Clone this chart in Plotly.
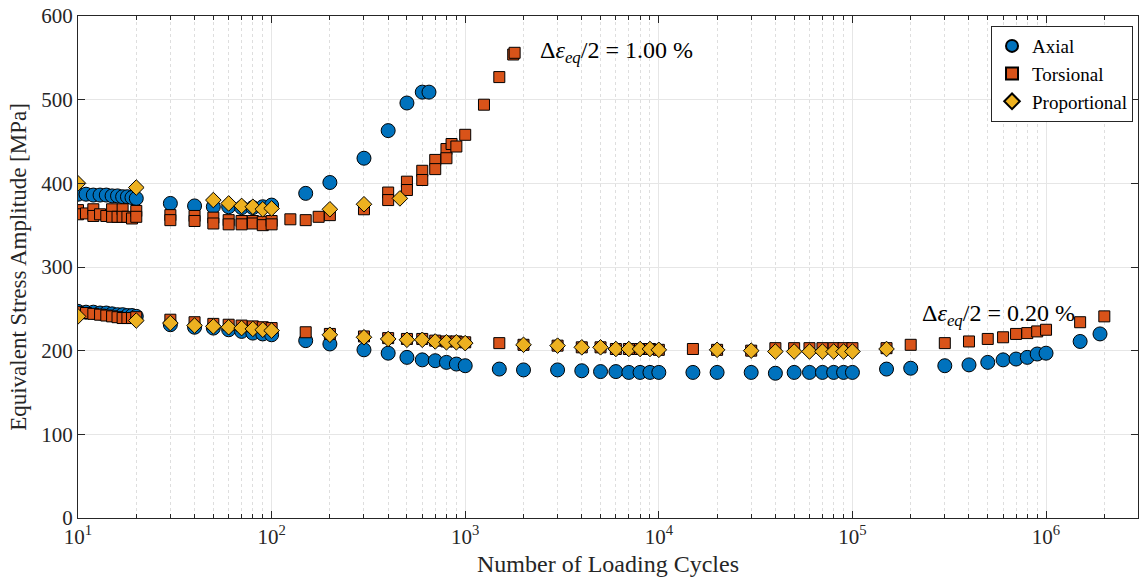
import plotly.graph_objects as go

# ---- Δε_eq/2 = 1.00 % ----
axial_hi_n = [10, 11, 12, 13, 14, 15, 16, 17, 18, 19, 20,
              30, 40, 50, 60, 70, 80, 90, 100,
              150, 200, 300, 400, 500, 600, 650]
axial_hi = [387, 387, 386, 386, 386, 385, 385, 384, 384, 383, 382,
            376, 373, 372, 372, 371, 371, 372, 374,
            388, 401, 430, 463, 496, 509, 509]

torsional_hi_n = [10, 10, 11, 12, 12, 13, 14, 15, 15, 16, 17, 17, 18, 19, 20, 20,
                  30, 30, 40, 40, 50, 50, 60, 60, 70, 70, 80, 80, 90, 90, 100, 100,
                  125, 150, 175, 200, 300, 400, 400, 500, 500, 600, 600, 700, 700,
                  800, 800, 850, 900, 1000, 1250, 1500, 1770, 1800]
torsional_hi = [368, 363, 364, 369, 361, 363, 361, 369, 360, 360, 369, 360, 360, 358, 367, 360,
                362, 356, 361, 355, 359, 352, 356, 351, 355, 351, 355, 352, 354, 350, 355, 351,
                357, 356, 360, 362, 369, 389, 380, 402, 392, 415, 404, 428, 417,
                441, 430, 447, 444, 458, 494, 527, 554, 556]

proportional_hi_n = [10, 20, 50, 60, 70, 80, 90, 100, 200, 300, 460]
proportional_hi = [400, 395, 380, 376, 373, 372, 369, 370, 369, 375, 382]

# ---- Δε_eq/2 = 0.20 % ----
axial_lo_n = [10, 11, 12, 13, 14, 15, 16, 17, 18, 19, 20,
              30, 40, 50, 60, 70, 80, 90, 100,
              150, 200, 300, 400, 500, 600, 700, 800, 900, 1000,
              1500, 2000, 3000, 4000, 5000, 6000, 7000, 8000, 9000, 10000,
              15000, 20000, 30000, 40000, 50000, 60000, 70000, 80000, 90000, 100000,
              150000, 200000, 300000, 400000, 500000, 600000, 700000, 800000, 900000, 1000000,
              1500000, 1900000]
axial_lo = [247, 246, 246, 245, 245, 244, 243, 243, 242, 242, 241,
            231, 228, 227, 225, 223, 221, 220, 219,
            212, 208, 201, 197, 192, 189, 188, 186, 184, 182,
            178, 177, 177, 176, 175, 175, 174, 174, 174, 174,
            174, 174, 174, 173, 174, 174, 174, 174, 174, 174,
            178, 179, 182, 183, 186, 189, 190, 192, 196, 197,
            211, 220]

torsional_lo_n = [10, 11, 12, 13, 14, 15, 16, 17, 18, 19, 20,
                  30, 40, 50, 60, 70, 80, 90, 100,
                  150, 200, 300, 400, 500, 600, 700, 800, 900, 1000,
                  1500, 2000, 3000, 4000, 5000, 6000, 7000, 8000, 9000, 10000,
                  15000, 20000, 30000, 40000, 50000, 60000, 70000, 80000, 90000, 100000,
                  150000, 200000, 300000, 400000, 500000, 600000, 700000, 800000, 900000, 1000000,
                  1500000, 2000000]
torsional_lo = [246, 245, 244, 243, 242, 241, 240, 239, 239, 239, 240,
                237, 234, 232, 231, 230, 229, 228, 227,
                222, 220, 217, 215, 214, 214, 212, 211, 211, 210,
                209, 207, 206, 204, 204, 202, 202, 202, 202, 201,
                202, 201, 200, 203, 203, 203, 203, 203, 203, 203,
                203, 207, 209, 211, 214, 216, 220, 221, 223, 225,
                234, 241]

proportional_lo_n = [10, 20, 30, 40, 50, 60, 70, 80, 90, 100,
                     200, 300, 400, 500, 600, 700, 800, 900, 1000,
                     2000, 3000, 4000, 5000, 6000, 7000, 8000, 9000, 10000,
                     20000, 30000, 40000, 50000, 60000, 70000, 80000, 90000, 100000, 150000]
proportional_lo = [241, 236, 233, 230, 229, 228, 227, 226, 225, 224,
                   219, 216, 214, 213, 213, 211, 210, 210, 209,
                   207, 206, 204, 204, 202, 202, 202, 202, 201,
                   201, 200, 199, 199, 199, 199, 199, 199, 199, 202]

x_tick_vals = [10, 100, 1000, 10000, 100000, 1000000]
x_tick_text = ["10<sup>1</sup>", "10<sup>2</sup>", "10<sup>3</sup>",
               "10<sup>4</sup>", "10<sup>5</sup>", "10<sup>6</sup>"]
y_tick_vals = [0, 100, 200, 300, 400, 500, 600]

FONT = "Liberation Serif"
AX_COLOR = "#262626"

series = [
    ("Axial", "circle", "#0072BD", 14, axial_hi_n, axial_hi, axial_lo_n, axial_lo),
    ("Torsional", "square", "#D95319", 11, torsional_hi_n, torsional_hi, torsional_lo_n, torsional_lo),
    ("Proportional", "diamond", "#EDB120", 12, proportional_hi_n, proportional_hi,
     proportional_lo_n, proportional_lo),
]

fig = go.Figure()
for name, symbol, color, size, xh, yh, xl, yl in series:
    fig.add_trace(go.Scatter(
        x=xh + xl, y=yh + yl, mode="markers", name=name,
        marker=dict(symbol=symbol, color=color, size=size,
                    line=dict(color="black", width=1)),
    ))

minor_vals = [k * 10 ** d for d in range(1, 7) for k in range(2, 10)]

fig.update_layout(
    width=1139, height=581,
    margin=dict(l=78, r=1, t=16, b=63),
    paper_bgcolor="white", plot_bgcolor="white",
    font=dict(family=FONT, size=21, color=AX_COLOR),
    showlegend=True,
    legend=dict(
        x=0.9953, y=0.980, xanchor="right", yanchor="top",
        bgcolor="white", bordercolor=AX_COLOR, borderwidth=1,
        font=dict(family=FONT, size=19, color="black"),
        tracegroupgap=0, itemsizing="constant",
    ),
    xaxis=dict(
        type="log", range=[1, 6.475], automargin=False,
        tickmode="array", tickvals=x_tick_vals, ticktext=x_tick_text,
        ticks="inside", ticklen=7, tickcolor=AX_COLOR,
        showline=True, linecolor=AX_COLOR, linewidth=1, mirror="allticks",
        showgrid=True, gridcolor="#e6e6e6", gridwidth=1,
        zeroline=False,
        minor=dict(tickmode="array", tickvals=minor_vals, ticks="inside",
                   ticklen=4, tickcolor=AX_COLOR, showgrid=True,
                   gridcolor="#dedede", griddash="dot", gridwidth=0.8),
        title=dict(text="Number of Loading Cycles", standoff=6,
                   font=dict(family=FONT, size=24, color=AX_COLOR)),
        tickfont=dict(family=FONT, size=21, color=AX_COLOR),
    ),
    yaxis=dict(
        range=[0, 600], tickmode="array", tickvals=y_tick_vals, automargin=False,
        ticks="inside", ticklen=7, tickcolor=AX_COLOR,
        showline=True, linecolor=AX_COLOR, linewidth=1, mirror="allticks",
        showgrid=True, gridcolor="#e6e6e6", gridwidth=1,
        zeroline=False,
        title=dict(text="Equivalent Stress Amplitude [MPa]", standoff=8,
                   font=dict(family=FONT, size=23, color=AX_COLOR)),
        tickfont=dict(family=FONT, size=21, color=AX_COLOR),
    ),
)

fig.add_annotation(
    x=3.376, y=557, xref="x", yref="y", xanchor="left", yanchor="middle",
    text="Δ<i>ε</i><sub><i>eq</i></sub>/2 = 1.00 %", showarrow=False,
    font=dict(family=FONT, size=24, color="black"),
)
fig.add_annotation(
    x=5.349, y=243, xref="x", yref="y", xanchor="left", yanchor="middle",
    text="Δ<i>ε</i><sub><i>eq</i></sub>/2 = 0.20 %", showarrow=False,
    font=dict(family=FONT, size=24, color="black"),
)

fig.write_html("out.html")
